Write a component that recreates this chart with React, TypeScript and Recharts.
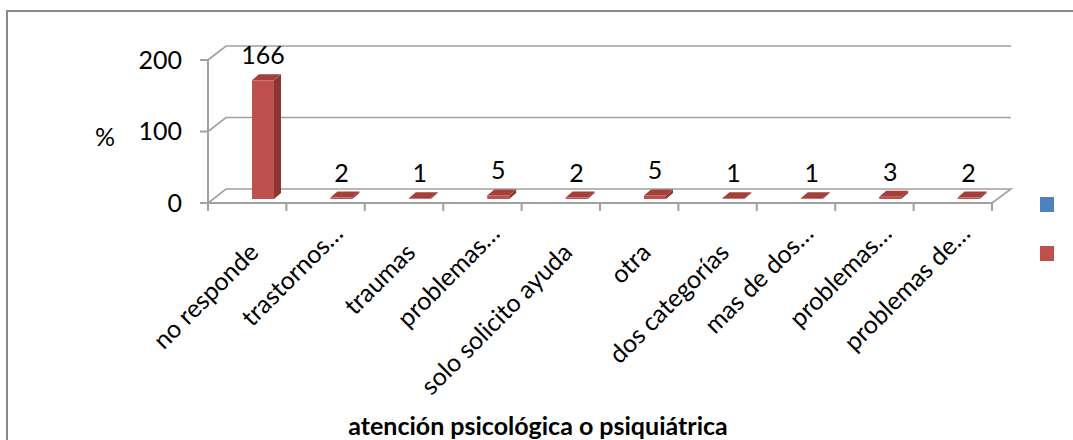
import React from 'react';
import { BarChart, Bar, XAxis, YAxis, CartesianGrid, Legend } from 'recharts';

const CATEGORIES = [
  'no responde',
  'trastornos…',
  'traumas',
  'problemas…',
  'solo solicito ayuda',
  'otra',
  'dos categorías',
  'mas de dos…',
  'problemas…',
  'problemas de…',
];
const VALUES = [166, 2, 1, 5, 2, 5, 1, 1, 3, 2];
const Y_TICKS = [0, 100, 200];
const SERIES = [
  { name: '', color: '#4F81BD' },
  { name: '', color: '#C0504D' },
];
const Y_LABEL = '%';
const X_TITLE = 'atención psicológica o psiquiátrica';

const data = CATEGORIES.map((name, i) => ({ name, value: VALUES[i] }));

const W = 1073;
const H = 440;
const MARGIN = { top: 60, right: 81, bottom: 207, left: 148 };
const Y_AXIS_W = 60;
const X_AXIS_H = 30;
const PLOT_W = W - MARGIN.left - Y_AXIS_W - MARGIN.right;
const BAND = PLOT_W / CATEGORIES.length;
const FONT = 'Lato, "Open Sans", sans-serif';
const FS = 25;
const GRID = '#a0a0a0';
const DX = 18;
const DY = -14;

const Bar3D = (props: any) => {
  const { x, y, width, height } = props;
  if (x == null || y == null) return null;
  const fx = x + 16;
  const fy = y - 4;
  const w = width;
  const h = Math.max(height, 0);
  const dx = 7;
  const dy = -6;
  return (
    <g>
      <polygon
        points={`${fx + w},${fy} ${fx + w + dx},${fy + dy} ${fx + w + dx},${fy + h + dy} ${fx + w},${fy + h}`}
        fill="#8C3533"
      />
      <polygon
        points={`${fx},${fy} ${fx + w},${fy} ${fx + w + dx},${fy + dy} ${fx + dx},${fy + dy}`}
        fill="#A43F3C"
      />
      <rect x={fx} y={fy} width={w} height={h} fill="#C0504D" />
    </g>
  );
};

const renderValueLabel = (props: any) => {
  const { x, y, width, value } = props;
  return (
    <text
      x={x + 16 + width / 2}
      y={y - 4 - 16}
      textAnchor="middle"
      fontSize={FS}
      fontFamily={FONT}
      fill="#000"
    >
      {value}
    </text>
  );
};

const gridLine = (props: any) => {
  const { x1, y1, x2, y, height, key } = props;
  const isFloor = Math.abs(y1 - (y + height)) < 1;
  let d = `M${x1},${y1} L${x1 + DX},${y1 + DY} L${x2 + DX + 1},${y1 + DY}`;
  if (isFloor) d += ` L${x2},${y1}`;
  return <path key={key} d={d} fill="none" stroke={GRID} strokeWidth={1.6} />;
};

const XTick = (props: any) => {
  const { x, y, payload, index } = props;
  const label = String(payload.value);
  const truncated = label.endsWith('…');
  const ax = x + (truncated ? 19 : 13);
  const ay = y + (truncated ? 32 : 51);
  const left = x - BAND / 2;
  const right = x + BAND / 2;
  return (
    <g>
      <line x1={left} y1={y} x2={left} y2={y + 8} stroke={GRID} strokeWidth={2} />
      {index === CATEGORIES.length - 1 && (
        <line x1={right} y1={y} x2={right} y2={y + 8} stroke={GRID} strokeWidth={2} />
      )}
      <text
        x={ax}
        y={ay}
        transform={`rotate(-45 ${ax} ${ay})`}
        textAnchor="end"
        fontSize={FS}
        fontFamily={FONT}
        fill="#000"
      >
        {label}
      </text>
    </g>
  );
};

const YLabel = (props: any) => {
  const vb = props.viewBox || {};
  return (
    <text
      x={vb.x + vb.width - 103}
      y={vb.y + vb.height / 2 + 4}
      textAnchor="middle"
      dominantBaseline="central"
      fontSize={FS}
      fontFamily={FONT}
      fill="#000"
    >
      {Y_LABEL}
    </text>
  );
};

const XTitle = (props: any) => {
  const vb = props.viewBox || {};
  return (
    <text
      x={vb.x + vb.width / 2 - 62}
      y={vb.y + 222}
      textAnchor="middle"
      dominantBaseline="central"
      fontSize={FS}
      fontWeight="bold"
      fontFamily={FONT}
      fill="#000"
    >
      {X_TITLE}
    </text>
  );
};

const LegendContent = () => (
  <div>
    {SERIES.map((s, i) => (
      <div
        key={i}
        style={{ width: 14, height: 15, background: s.color, marginBottom: i === 0 ? 34 : 0 }}
        title={s.name}
      />
    ))}
  </div>
);

export default function App() {
  return (
    <div
      style={{
        position: 'absolute',
        left: 0,
        top: 0,
        width: W,
        height: H,
        overflow: 'hidden',
        background: '#fff',
      }}
    >
      <div
        style={{
          position: 'absolute',
          left: 6,
          top: 10,
          width: 1200,
          height: 600,
          border: '2px solid #888',
        }}
      />
      <div style={{ position: 'absolute', left: 0, top: 0 }}>
        <BarChart width={W} height={H} data={data} margin={MARGIN}>
          <CartesianGrid vertical={false} horizontal={gridLine} />
          <XAxis
            dataKey="name"
            height={X_AXIS_H}
            axisLine={{ stroke: GRID, strokeWidth: 2 }}
            tickLine={false}
            tickSize={0}
            tickMargin={0}
            interval={0}
            tick={<XTick />}
            label={<XTitle />}
          />
          <YAxis
            width={Y_AXIS_W}
            domain={[0, 200]}
            ticks={Y_TICKS}
            axisLine={{ stroke: GRID, strokeWidth: 2 }}
            tickLine={{ stroke: GRID, strokeWidth: 2 }}
            tickSize={8}
            tickMargin={18}
            tick={{ fontSize: FS, fontFamily: FONT, fill: '#000' }}
            label={<YLabel />}
          />
          <Legend
            layout="horizontal"
            verticalAlign="middle"
            align="center"
            content={<LegendContent />}
            wrapperStyle={{ position: 'absolute', left: 1040, top: 197, width: 20, height: 70 }}
          />
          <Bar
            dataKey="value"
            barSize={22}
            shape={<Bar3D />}
            label={renderValueLabel}
            isAnimationActive={false}
          />
        </BarChart>
      </div>
    </div>
  );
}
